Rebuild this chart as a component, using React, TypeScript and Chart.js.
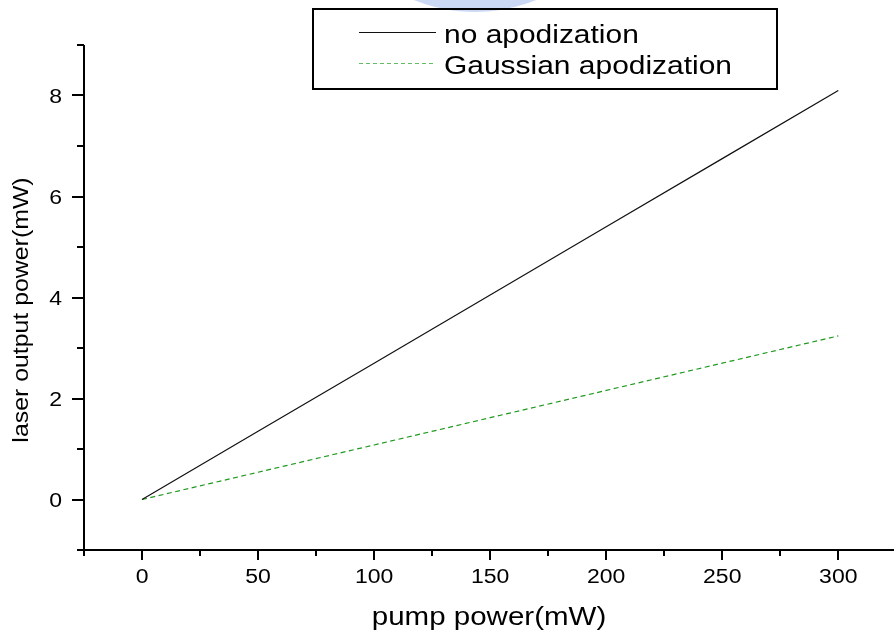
import React, { useEffect, useRef } from "react";
import { Chart, registerables } from "chart.js";

Chart.register(...registerables);

// ---- data ----
const pumpPower = [0, 50, 100, 150, 200, 250, 300];
const noApodization = [0, 1.35, 2.7, 4.05, 5.4, 6.75, 8.1];
const gaussianApodization = [0, 0.54, 1.08, 1.62, 2.16, 2.7, 3.24];

const seriesLabels = ["no apodization", "Gaussian apodization"];

const xMajorTicks = [0, 50, 100, 150, 200, 250, 300];
const xMinorTicks = [-25, 25, 75, 125, 175, 225, 275];
const yMajorTicks = [0, 2, 4, 6, 8];
const yMinorTicks = [-1, 1, 3, 5, 7, 9];

const xTitle = "pump power(mW)";
const yTitle = "laser output power(mW)";

const FONT = '"Liberation Sans", Arial, Helvetica, sans-serif';

function drawText(
  ctx: CanvasRenderingContext2D,
  text: string,
  x: number,
  y: number,
  size: number,
  stretch: number,
  align: CanvasTextAlign,
  rotate = 0
) {
  ctx.save();
  ctx.translate(x, y);
  if (rotate) ctx.rotate(rotate);
  ctx.scale(stretch, 1);
  ctx.font = `${size}px ${FONT}`;
  ctx.textAlign = align;
  ctx.textBaseline = "alphabetic";
  ctx.fillStyle = "#000";
  ctx.fillText(text, 0, 0);
  ctx.restore();
}

const decorPlugin = {
  id: "decor",
  afterDraw(chart: any) {
    const ctx: CanvasRenderingContext2D = chart.ctx;
    const xs = chart.scales.x;
    const ys = chart.scales.y;
    const axisY = ys.getPixelForValue(-1);
    const axisX = xs.getPixelForValue(-25);

    ctx.save();
    ctx.strokeStyle = "#000";
    ctx.lineWidth = 2;
    ctx.lineCap = "butt";
    // axis lines
    ctx.beginPath();
    ctx.moveTo(axisX - 1, axisY);
    ctx.lineTo(chart.width, axisY);
    ctx.moveTo(axisX, ys.getPixelForValue(9));
    ctx.lineTo(axisX, axisY + 1);
    ctx.stroke();

    // x ticks
    ctx.beginPath();
    xMajorTicks.forEach((v) => {
      const px = Math.round(xs.getPixelForValue(v));
      ctx.moveTo(px, axisY);
      ctx.lineTo(px, axisY + 10);
    });
    xMinorTicks.forEach((v) => {
      const px = Math.round(xs.getPixelForValue(v));
      ctx.moveTo(px, axisY);
      ctx.lineTo(px, axisY + 6);
    });
    // y ticks
    yMajorTicks.forEach((v) => {
      const py = Math.round(ys.getPixelForValue(v));
      ctx.moveTo(axisX, py);
      ctx.lineTo(axisX - 12, py);
    });
    yMinorTicks.forEach((v) => {
      const py = Math.round(ys.getPixelForValue(v));
      ctx.moveTo(axisX, py);
      ctx.lineTo(axisX - 7, py);
    });
    ctx.stroke();

    // tick labels
    xMajorTicks.forEach((v) => {
      drawText(ctx, String(v), xs.getPixelForValue(v), axisY + 33, 20, 1.15, "center");
    });
    yMajorTicks.forEach((v) => {
      drawText(ctx, String(v), axisX - 22, ys.getPixelForValue(v) + 7.2, 20, 1.15, "right");
    });

    // axis titles
    drawText(ctx, xTitle, (chart.chartArea.left + chart.chartArea.right) / 2, 625, 25, 1.18, "center");
    drawText(ctx, yTitle, 28, 310, 22, 1.13, "center", -Math.PI / 2);

    // legend
    const bx = 313, by = 9, bw = 464, bh = 80;
    ctx.fillStyle = "#fff";
    ctx.fillRect(bx, by, bw, bh);

    // faint watermark remnant at the top edge
    ctx.save();
    ctx.beginPath();
    ctx.rect(330, 0, 280, 18);
    ctx.clip();
    ctx.strokeStyle = "rgba(110,145,225,0.35)";
    ctx.lineWidth = 14;
    ctx.beginPath();
    ctx.arc(475, -150, 155, 0.15 * Math.PI, 0.85 * Math.PI);
    ctx.stroke();
    ctx.restore();

    ctx.lineWidth = 2;
    ctx.strokeStyle = "#000";
    ctx.strokeRect(bx, by, bw, bh);

    const ds = chart.data.datasets;
    // sample 1
    ctx.beginPath();
    ctx.lineWidth = 1;
    ctx.strokeStyle = ds[0].borderColor;
    ctx.setLineDash([]);
    ctx.moveTo(359, 32.5);
    ctx.lineTo(436, 32.5);
    ctx.stroke();
    // sample 2
    ctx.beginPath();
    ctx.strokeStyle = "rgba(60,170,60,0.8)";
    ctx.setLineDash([4, 3]);
    ctx.moveTo(359, 63.5);
    ctx.lineTo(436, 63.5);
    ctx.stroke();
    ctx.setLineDash([]);

    drawText(ctx, ds[0].label, 444, 43, 26.5, 1.13, "left");
    drawText(ctx, ds[1].label, 444, 74, 26.5, 1.13, "left");
    ctx.restore();
  },
};

export default function App() {
  const canvasRef = useRef<HTMLCanvasElement | null>(null);

  useEffect(() => {
    document.body.style.margin = "0";
    const canvas = canvasRef.current;
    if (!canvas) return;
    const chart = new Chart(canvas, {
      type: "scatter",
      data: {
        datasets: [
          {
            label: seriesLabels[0],
            data: pumpPower.map((x, i) => ({ x, y: noApodization[i] })),
            showLine: true,
            borderColor: "#111",
            borderWidth: 1.2,
            pointRadius: 0,
            tension: 0,
          },
          {
            label: seriesLabels[1],
            data: pumpPower.map((x, i) => ({ x, y: gaussianApodization[i] })),
            showLine: true,
            borderColor: "#1f9a1f",
            borderWidth: 1.2,
            borderDash: [5, 3.5],
            pointRadius: 0,
            tension: 0,
          },
        ],
      },
      options: {
        responsive: false,
        animation: false,
        events: [],
        layout: { padding: { top: 45, left: 0, right: 0, bottom: 0 } },
        plugins: {
          legend: { display: false },
          tooltip: { enabled: false },
          title: { display: false },
        },
        scales: {
          x: {
            type: "linear",
            min: -25,
            max: 324,
            grid: { display: false, drawTicks: false },
            border: { display: false },
            ticks: { display: false },
            afterFit: (s: any) => {
              s.height = 84;
            },
          },
          y: {
            type: "linear",
            min: -1,
            max: 9,
            grid: { display: false, drawTicks: false },
            border: { display: false },
            ticks: { display: false },
            afterFit: (s: any) => {
              s.width = 84;
            },
          },
        },
      },
      plugins: [decorPlugin],
    });
    return () => chart.destroy();
  }, []);

  return (
    <div style={{ position: "absolute", left: 0, top: 0, width: 894, height: 634, background: "#fff" }}>
      <canvas ref={canvasRef} width={894} height={634} style={{ display: "block" }} />
    </div>
  );
}
